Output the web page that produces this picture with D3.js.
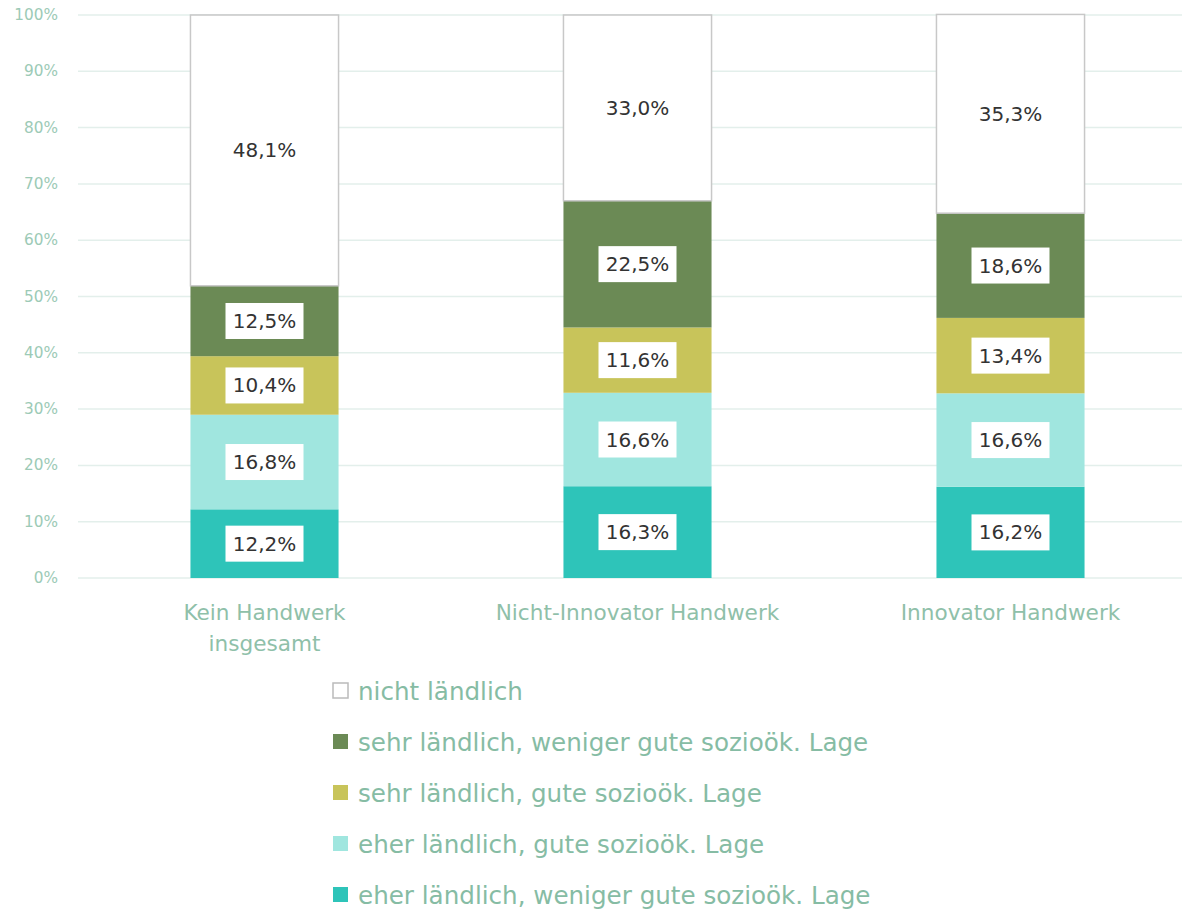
<!DOCTYPE html>
<html>
<head>
<meta charset="utf-8">
<script src="https://cdn.jsdelivr.net/npm/d3@7"></script>
<style>
  body { margin: 0; background: #fff; }
  text { font-family: "DejaVu Sans", sans-serif; }
</style>
</head>
<body>
<div class="d3"></div>
<script>
const categories = ["Kein Handwerk insgesamt", "Nicht-Innovator Handwerk", "Innovator Handwerk"];
const categoryLines = [["Kein Handwerk", "insgesamt"], ["Nicht-Innovator Handwerk"], ["Innovator Handwerk"]];
const seriesNames = [
  "eher ländlich, weniger gute sozioök. Lage",
  "eher ländlich, gute sozioök. Lage",
  "sehr ländlich, gute sozioök. Lage",
  "sehr ländlich, weniger gute sozioök. Lage",
  "nicht ländlich"
];
const eherWeniger = [12.2, 16.3, 16.2];
const eherGute = [16.8, 16.6, 16.6];
const sehrGute = [10.4, 11.6, 13.4];
const sehrWeniger = [12.5, 22.5, 18.6];
const nichtLaendlich = [48.1, 33.0, 35.3];
const yTicks = [0, 10, 20, 30, 40, 50, 60, 70, 80, 90, 100];
const colors = ["#2ec4b9", "#a0e6df", "#c8c45a", "#6b8a55", "#ffffff"];

const width = 1182, height = 913;
const svg = d3.select(".d3").append("svg")
    .attr("width", width)
    .attr("height", height);

const seriesValues = [eherWeniger, eherGute, sehrGute, sehrWeniger, nichtLaendlich];
const rows = categories.map(function (c, i) {
    const row = { cat: c };
    seriesNames.forEach(function (s, k) { row[s] = seriesValues[k][i]; });
    return row;
});
const stacked = d3.stack().keys(seriesNames)(rows);

const x = d3.scaleBand().domain(categories).range([78, 1197]);
const barW = x.bandwidth() * 0.397;
const y = d3.scaleLinear().domain([0, 100]).range([578, 15]);

// grid
svg.append("g").selectAll("line").data(yTicks).enter().append("line")
    .attr("x1", 78).attr("x2", width)
    .attr("y1", d => y(d)).attr("y2", d => y(d))
    .attr("stroke", "#e3efeb").attr("stroke-width", 1.5);

// y axis labels
svg.append("g").selectAll("text").data(yTicks).enter().append("text")
    .attr("x", 58).attr("y", d => y(d) + 5)
    .attr("text-anchor", "end")
    .attr("font-size", 15.3)
    .attr("fill", "#9ccab6")
    .text(d => d + "%");

// bars
const layers = svg.append("g").selectAll("g").data(stacked).enter().append("g")
    .attr("fill", (d, i) => colors[i]);
layers.selectAll("rect").data(d => d).enter().append("rect")
    .attr("x", d => x(d.data.cat) + (x.bandwidth() - barW) / 2)
    .attr("width", barW)
    .attr("y", d => y(d[1]))
    .attr("height", d => y(d[0]) - y(d[1]))
    .attr("stroke", function () { return d3.select(this.parentNode).datum().key === "nicht ländlich" ? "#c8c8c8" : "none"; })
    .attr("stroke-width", 1.5);

// labels
const fmt = v => v.toFixed(1).replace(".", ",") + "%";
stacked.forEach(function (layer) {
    layer.forEach(function (d) {
        const cx = x(d.data.cat) + x.bandwidth() / 2;
        const cy = (y(d[0]) + y(d[1])) / 2;
        const v = d[1] - d[0];
        svg.append("rect")
            .attr("x", cx - 39).attr("y", cy - 18)
            .attr("width", 78).attr("height", 36)
            .attr("fill", "#fff");
        svg.append("text")
            .attr("x", cx).attr("y", cy + 7)
            .attr("text-anchor", "middle")
            .attr("font-size", 20)
            .attr("fill", "#333")
            .text(fmt(v));
    });
});

// category labels
categoryLines.forEach(function (lines, i) {
    const cx = x(categories[i]) + x.bandwidth() / 2;
    const t = svg.append("text")
        .attr("text-anchor", "middle")
        .attr("font-size", 21.6)
        .attr("fill", "#8fc0a9");
    lines.forEach(function (l, j) {
        t.append("tspan").attr("x", cx).attr("y", 620 + j * 31).text(l);
    });
});

// legend
const legendOrder = seriesNames.slice().reverse();
const legendColors = colors.slice().reverse();
const lg = svg.append("g").selectAll("g").data(legendOrder).enter().append("g")
    .attr("transform", (d, i) => "translate(333," + (692 + i * 51) + ")");
lg.append("rect")
    .attr("x", 0).attr("y", -9).attr("width", 15).attr("height", 15)
    .attr("fill", (d, i) => legendColors[i])
    .attr("stroke", (d, i) => i === 0 ? "#bbb" : "none")
    .attr("stroke-width", 1.5);
lg.append("text")
    .attr("x", 25).attr("y", 8)
    .attr("font-size", 24.6)
    .attr("fill", "#86bca4")
    .text(d => d);
</script>
</body>
</html>
